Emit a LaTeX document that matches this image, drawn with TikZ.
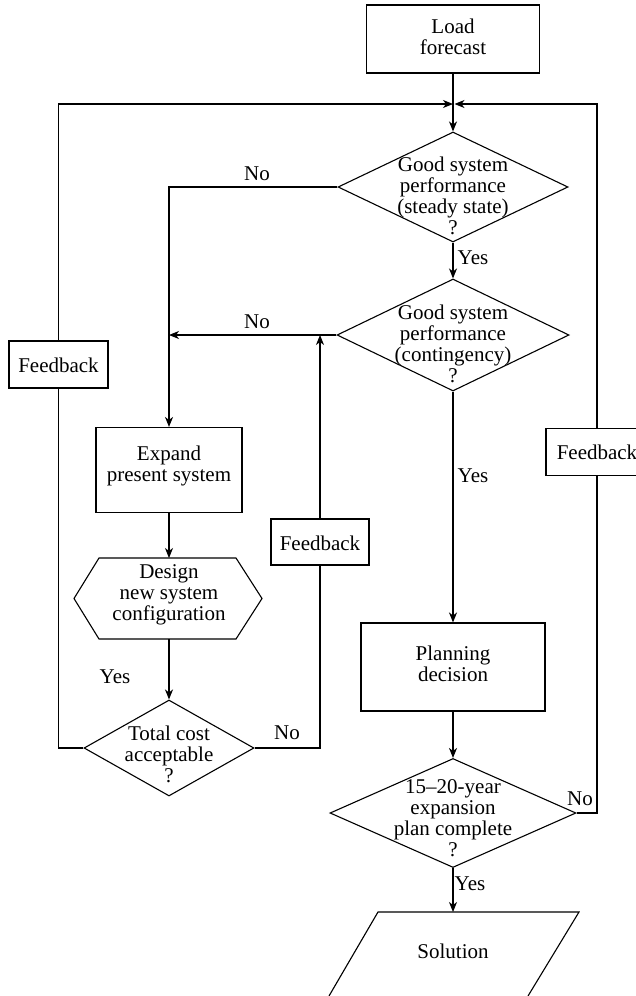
\documentclass[tikz,border=0pt]{standalone}
\usepackage{fontspec}
\setmainfont{Liberation Serif}
\usetikzlibrary{shapes.geometric,arrows.meta,calc}

\tikzset{
  flow/.style={line width=1.1pt},
  arr/.style={flow,-{Stealth[length=10pt,width=8pt,inset=3pt]}},
  box/.style={draw,line width=1.1pt,rectangle,inner sep=0pt},
  dec/.style={draw,line width=1.1pt,diamond,inner sep=0pt},
  txt/.style={align=center,inner sep=0pt,font=\fontsize{21}{21}\selectfont},
  lbl/.style={inner sep=0pt,font=\fontsize{21}{21}\selectfont},
}

\begin{document}
\begin{tikzpicture}[x=1pt,y=-1pt]
\useasboundingbox (0,0) rectangle (636,996);

% main column
\node[box,minimum width=173pt,minimum height=68pt] (load) at (453,39) {};
\node[txt] (loadT) at (453,37) {Load\\forecast};
\coordinate (J) at (453,104);

\node[dec,minimum width=230pt,minimum height=110pt] (d1) at (453,187) {};
\node[txt] (d1T) at (453,196) {Good system\\performance\\(steady state)\\?};

\node[dec,minimum width=232pt,minimum height=112pt] (d2) at (453,335) {};
\node[txt] (d2T) at (453,344) {Good system\\performance\\(contingency)\\?};

\node[box,minimum width=184pt,minimum height=88pt] (plan) at (453,667) {};
\node[txt] (planT) at (453,664) {Planning\\decision};

\node[dec,minimum width=246pt,minimum height=109pt] (d3) at (453,813) {};
\node[txt] (d3T) at (453,818) {15--20-year\\expansion\\plan complete\\?};

% solution (runs off the lower edge)
\coordinate (solTop) at (453,912);
\draw[flow] (329,996) -- (378,912) -- (579,912) -- (528,996);
\node[lbl] (solT) at (453,951) {Solution};

% left column
\node[box,minimum width=146pt,minimum height=85pt] (expand) at (169,470) {};
\node[txt] (expandT) at (169,466) {Expand\\present system};

\coordinate (hexTop) at (169,558);
\coordinate (hexBot) at (169,639);
\draw[flow] (99,558) -- (236,558) -- (262,598.5) -- (236,639) -- (99,639) -- (74,598.5) -- cycle;
\node[txt] (hexT) at (169,595) {Design\\new system\\configuration};

\node[dec,minimum width=170pt,minimum height=96pt] (tc) at (169,748) {};
\node[txt] (tcT) at (169,754) {Total cost\\acceptable\\?};

% feedback boxes
\node[box,fill=white,minimum width=99pt,minimum height=47pt] (fbL) at (58.5,364.5) {};
\node[lbl] (fbLT) at (58.5,365) {Feedback};
\node[box,fill=white,minimum width=98pt,minimum height=46pt] (fbM) at (320,542) {};
\node[lbl] (fbMT) at (320,543) {Feedback};
\node[box,fill=white,minimum width=102pt,minimum height=47pt] (fbR) at (597,452) {};
\node[lbl] (fbRT) at (597,452.5) {Feedback};

% connectors
\draw[flow] (load.south) -- (J);
\draw[arr] (J) -- (d1.north);
\draw[arr] (d1.west) -| (expand.north);
\draw[arr] (d1.south) -- (d2.north);
\draw[arr] (d2.west) -- (d2.west -| expand.north);
\draw[arr] (d2.south) -- (plan.north);
\draw[arr] (plan.south) -- (d3.north);
\draw[arr] (d3.south) -- (solTop);

\draw[arr] (expand.south) -- (hexTop);
\draw[arr] (hexBot) -- (tc.north);

\draw[flow] (tc.east) -| (fbM.south);
\draw[arr] (fbM.north) -- (fbM.north |- d2.west);
\draw[flow] (tc.west) -| (fbL.south);
\draw[arr] (fbL.north) |- (J);
\draw[flow] (d3.east) -| (fbR.south);
\draw[arr] (fbR.north) |- ($(J)+(1.5,0)$);

% branch labels
\node[lbl] (no1) at (257,174) {No};
\node[lbl] (no2) at (257,322) {No};
\node[lbl] (yes1) at (473,258) {Yes};
\node[lbl] (yes2) at (473,476) {Yes};
\node[lbl] (yes3) at (115,677) {Yes};
\node[lbl] (no3) at (287,733) {No};
\node[lbl] (no4) at (580,799) {No};
\node[lbl] (yes4) at (470,884) {Yes};
\end{tikzpicture}
\end{document}
